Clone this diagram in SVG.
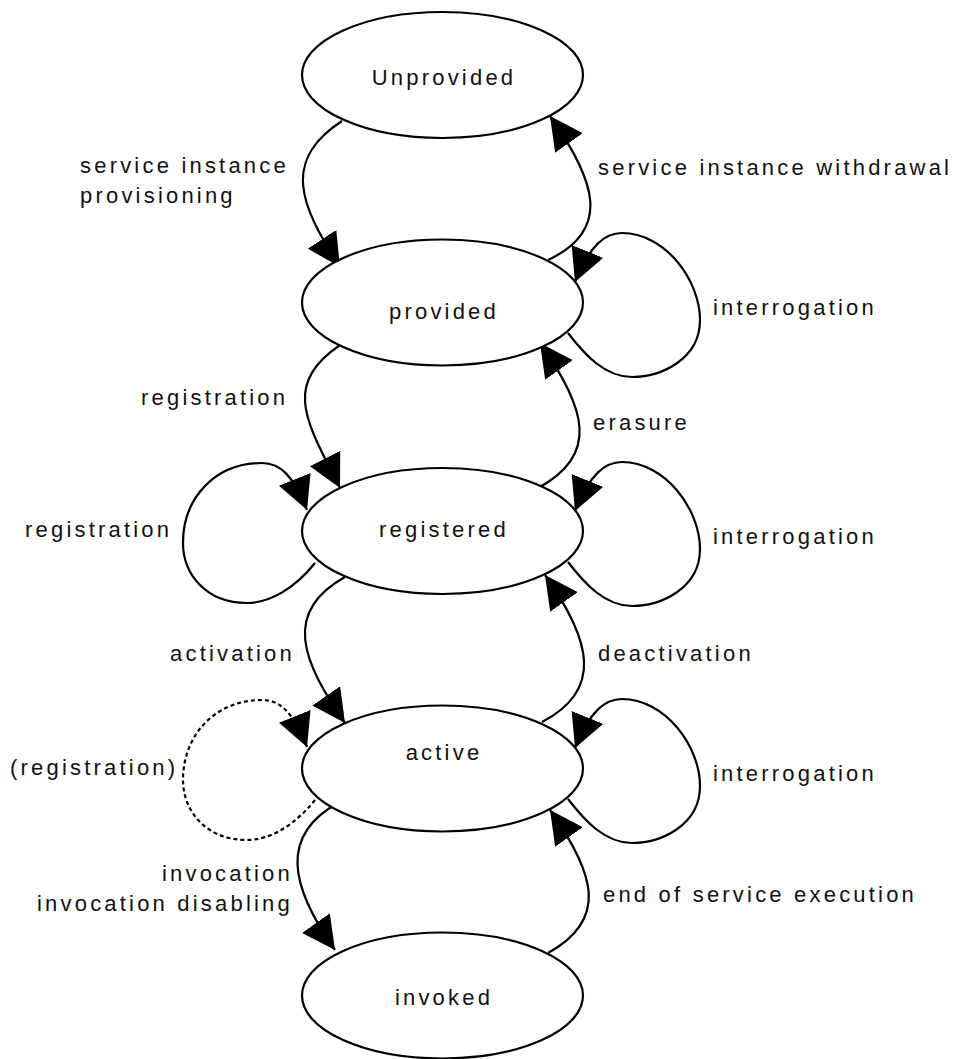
<svg xmlns="http://www.w3.org/2000/svg" width="953" height="1059" viewBox="0 0 953 1059">
<defs>
<style>
.node ellipse{fill:#fff;stroke:#000;stroke-width:2.2}
text{font-family:"Liberation Sans",Arial,sans-serif;font-size:22px;letter-spacing:3.2px;fill:#111}
.nl{text-anchor:middle}
.edge{fill:none;stroke:#000;stroke-width:2.2;marker-end:url(#ah)}
.dash{stroke-dasharray:4,3}
</style>
<marker id="ah" viewBox="0 0 33 34" refX="33" refY="17" markerWidth="33" markerHeight="34" markerUnits="userSpaceOnUse" orient="auto">
<path d="M0,0 L33,17 L0,34 z" fill="#000"/>
</marker>
</defs>
<g id="connectors">
<path class="edge" d="M342,121 C282,160 299,204 340,267"/>
<path class="edge" d="M548,260 C612,230 596,181 550,116"/>
<path class="edge" d="M568,333 C585,355 605,377 632,377 C660,377 700,360 700,320 C700,280 665,233 622,233 C605,233 590,245 575,282"/>
<path class="edge" d="M340,345 C282,385 306,421 340,488"/>
<path class="edge" d="M538,488 C600,455 586,408 540,343"/>
<path class="edge" transform="translate(0,-237)" d="M315,800 C295,825 270,840 247,840 C205,840 183,810 183,780 C183,735 215,700 262,700 C280,700 293,712 307,747"/>
<path class="edge" transform="translate(0,229)" d="M568,333 C585,355 605,377 632,377 C660,377 700,360 700,320 C700,280 665,233 622,233 C605,233 590,245 575,282"/>
<path class="edge" d="M345,577 C282,612 302,661 345,723"/>
<path class="edge" d="M542,722 C604,690 591,640 545,575"/>
<path class="edge dash" d="M315,800 C295,825 270,840 247,840 C205,840 183,810 183,780 C183,735 215,700 262,700 C280,700 293,712 307,747"/>
<path class="edge" transform="translate(0,466)" d="M568,333 C585,355 605,377 632,377 C660,377 700,360 700,320 C700,280 665,233 622,233 C605,233 590,245 575,282"/>
<path class="edge" d="M338,803 C280,835 289,885 335,950"/>
<path class="edge" d="M548,953 C608,920 596,875 550,810"/>
</g>
<g id="labels">
<text x="80" y="173">service instance</text>
<text x="80" y="203">provisioning</text>
<text x="598" y="175">service instance withdrawal</text>
<text x="713" y="315">interrogation</text>
<text x="141" y="405">registration</text>
<text x="593" y="430">erasure</text>
<text x="25" y="537">registration</text>
<text x="713" y="544">interrogation</text>
<text x="170" y="661">activation</text>
<text x="598" y="661">deactivation</text>
<text x="10" y="775">(registration)</text>
<text x="713" y="781">interrogation</text>
<text x="293" y="881" text-anchor="end">invocation</text>
<text x="293" y="911" text-anchor="end">invocation disabling</text>
<text x="603" y="902">end of service execution</text>
</g>
<g id="unprovided" class="node"><ellipse cx="442.5" cy="75" rx="140.5" ry="63"/><text class="nl" x="444" y="85">Unprovided</text></g>
<g id="provided" class="node"><ellipse cx="442.5" cy="302.5" rx="140.5" ry="63"/><text class="nl" x="444" y="319">provided</text></g>
<g id="registered" class="node"><ellipse cx="442.5" cy="531" rx="140.5" ry="63"/><text class="nl" x="444" y="537">registered</text></g>
<g id="active" class="node"><ellipse cx="442.5" cy="768.5" rx="140.5" ry="63"/><text class="nl" x="444" y="760">active</text></g>
<g id="invoked" class="node"><ellipse cx="442.5" cy="995.5" rx="140.5" ry="63"/><text class="nl" x="444" y="1005">invoked</text></g>
</svg>
